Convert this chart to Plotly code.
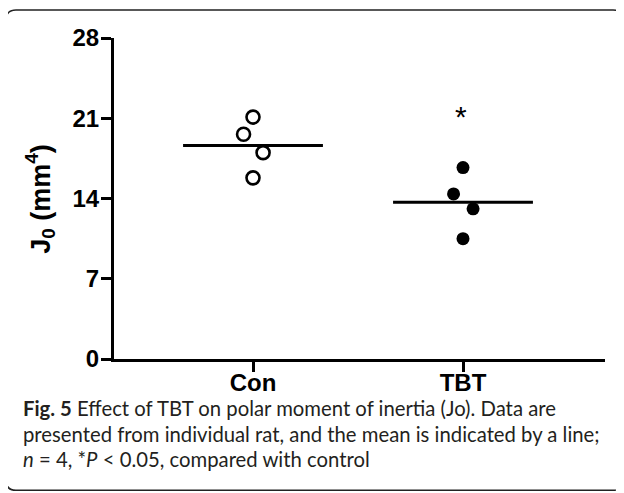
import plotly.graph_objects as go
import numpy as np

# ---- data ----
groups = ["Con", "TBT"]
con_values = [21.1, 19.6, 18.0, 15.8]
tbt_values = [16.7, 14.4, 13.1, 10.5]
jitter = [0.0, -0.045, 0.048, 0.0]          # horizontal offsets of points (category units)
y_ticks = [0, 7, 14, 21, 28]
sig_label = "*"
sig_value = 21.4

# page has an 8px body margin: build the figure so it fits the window
OFF = 8
W, H = 624 - OFF, 493 - OFF
# plot area in page pixels
PL, PR, PT, PB = 114, 605, 38, 359.5
L, R, T, B = PL - OFF, W - (PR - OFF), PT - OFF, H - (PB - OFF)
pw, ph = W - L - R, H - T - B

def px2x(px):          # page pixel -> paper x
    return (px - OFF - L) / pw

def py2y(py):          # page pixel -> paper y
    return (H - B - (py - OFF)) / ph

FONT = "Liberation Sans, Arial, sans-serif"
CAP = "Lato, Open Sans, sans-serif"

fig = go.Figure()

# individual points
fig.add_trace(go.Scatter(
    x=[0 + j for j in jitter], y=con_values, mode="markers",
    marker=dict(symbol="circle-open", size=13, color="black", line=dict(width=2.6, color="black")),
    showlegend=False, hoverinfo="y"))
fig.add_trace(go.Scatter(
    x=[1 + j for j in jitter], y=tbt_values, mode="markers",
    marker=dict(symbol="circle", size=13, color="black"),
    showlegend=False, hoverinfo="y"))

# mean lines
half = 0.333
for i, vals in enumerate([con_values, tbt_values]):
    m = float(np.mean(vals))
    fig.add_trace(go.Scatter(x=[i - half, i + half], y=[m, m], mode="lines",
                             line=dict(color="black", width=3), showlegend=False, hoverinfo="skip"))

fig.update_xaxes(
    range=[(PL - 253) / 210, (PR - 253) / 210],
    tickvals=[0, 1], ticktext=groups,
    showline=True, linecolor="black", linewidth=3,
    ticks="outside", ticklen=10, tickwidth=3, tickcolor="black",
    tickfont=dict(family=FONT, size=24, color="black", weight="bold"),
    ticklabelstandoff=-10,
    showgrid=False, zeroline=False)
fig.update_yaxes(
    range=[0, 28], tickvals=y_ticks, ticktext=[str(v) for v in y_ticks],
    showline=True, linecolor="black", linewidth=3,
    ticks="outside", ticklen=10, tickwidth=3, tickcolor="black",
    tickfont=dict(family=FONT, size=24, color="black", weight="bold"),
    ticklabelstandoff=-3,
    showgrid=False, zeroline=False)

annotations = [
    dict(text="<b>J<sub>0</sub> (mm<sup>4</sup>)</b>", xref="paper", yref="paper",
         x=px2x(40), y=py2y(199), textangle=-90, showarrow=False,
         xanchor="center", yanchor="middle",
         font=dict(family=FONT, size=27, color="black")),
    dict(text=sig_label, xref="x", yref="y", x=0.99, y=sig_value, showarrow=False,
         xanchor="center", yanchor="middle", yshift=-3,
         font=dict(family=FONT, size=30, color="black")),
]
cap_lines = [
    "<b>Fig. 5</b> Effect of TBT on polar moment of inertia (Jo). Data are",
    "presented from individual rat, and the mean is indicated by a line;",
    "<i>n</i> = 4, *<i>P</i> &lt; 0.05, compared with control",
]
for k, line in enumerate(cap_lines):
    annotations.append(dict(text=line, xref="paper", yref="paper",
                            x=px2x(21), y=py2y(409 + 25.5 * k), showarrow=False,
                            xanchor="left", yanchor="middle",
                            font=dict(family=CAP, size=20.3, color="#231f20")))

# rounded border around the figure
x0, y0, x1, y1, r = 6, 10, 623, 491, 10
def P(px, py):
    return f"{px2x(px):.5f},{py2y(py):.5f}"
path = (f"M {P(x0 + r, y0)} L {P(x1 - r, y0)} Q {P(x1, y0)} {P(x1, y0 + r)} "
        f"L {P(x1, y1 - r)} Q {P(x1, y1)} {P(x1 - r, y1)} "
        f"L {P(x0 + r, y1)} Q {P(x0, y1)} {P(x0, y1 - r)} "
        f"L {P(x0, y0 + r)} Q {P(x0, y0)} {P(x0 + r, y0)} Z")

fig.update_layout(
    width=W, height=H, autosize=False,
    margin=dict(l=L, r=R, t=T, b=B, pad=0),
    plot_bgcolor="white", paper_bgcolor="white",
    annotations=annotations,
    shapes=[dict(type="path", path=path, xref="paper", yref="paper",
                 line=dict(color="#222222", width=1.5), layer="below")],
)

fig.write_html("out.html")
